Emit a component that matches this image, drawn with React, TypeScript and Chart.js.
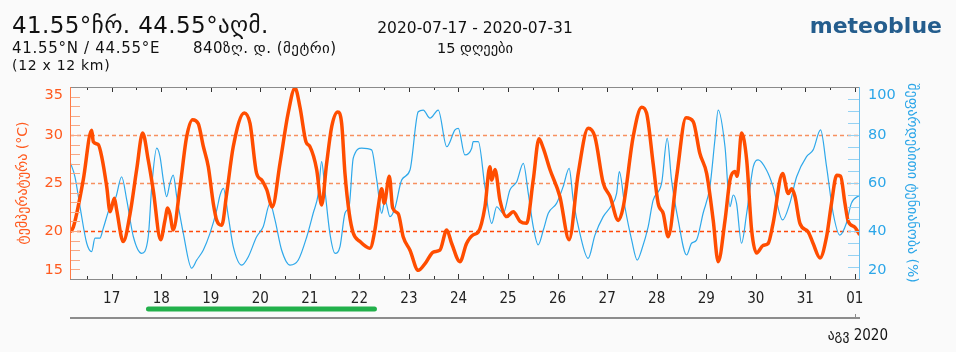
import React, { useEffect, useRef } from 'react';
import { Chart, registerables } from 'chart.js';

Chart.register(...registerables);

// hours since 2020-07-17 00:00
const TEMP_HOURS = [-20.2,-18.6,-13.8,-9.7,-8.9,-6.5,-4.8,-2.4,-0.8,1.3,
  2.4,5.6,8.9,12.1,15.0,17.7,20.1,23.7,25.8,27.1,
  28.2,29.8,33.1,36.3,39.2,41.9,44.4,46.8,49.2,50.9,
  53.3,55.7,58.9,64.2,67.0,70.2,72.7,75.1,77.8,81.5,
  85.5,88.8,91.2,94.1,96.0,99.3,101.7,104.1,106.6,109.5,
  111.4,113.0,115.1,117.0,120.3,125.1,127.5,129.1,130.8,132.0,
  134.5,136.1,138.8,141.2,144.5,148.5,151.8,155.8,159.0,162.3,
  164.7,168.7,171.9,175.1,177.6,180.8,183.2,184.1,185.7,188.1,
  191.3,194.5,197.8,201.0,204.2,207.0,209.1,212.3,217.1,221.6,
  226.0,230.8,234.1,238.1,241.4,245.4,247.8,252.6,256.7,259.1,
  262.3,264.7,267.2,269.6,273.7,278.2,281.7,284.9,288.2,291.4,
  293.8,297.1,299.5,301.9,303.0,305.1,307.6,310.0,312.4,315.6,
  318.0,320.4,325.0,327.7,329.4,331.0,333.4,337.4,339.8,343.1,
  346.3,348.7,351.2,353.1,355.2,356.8,360.0,362.4];
const TEMP_VALUES = [19.9,20.4,25.3,30.5,29.3,29.0,27.7,24.6,22.0,23.4,
  22.2,18.9,21.8,26.4,30.2,27.4,24.3,19.1,21.1,22.4,
  21.8,20.1,24.6,29.8,31.6,31.2,28.8,26.7,22.9,21.1,
  20.6,23.9,28.8,32.3,31.2,26.0,25.3,24.3,22.5,27.0,
  32.3,34.9,32.9,29.3,28.8,26.4,22.7,27.0,30.9,32.4,
  31.2,26.0,21.8,19.8,18.9,18.2,20.1,22.5,24.4,22.9,
  25.7,22.4,21.8,19.4,18.0,15.9,16.6,17.8,18.0,20.1,
  18.7,16.8,18.7,19.6,19.9,22.5,26.7,25.3,26.4,23.2,
  21.5,22.0,21.0,20.8,25.3,29.6,28.6,26.4,23.6,19.1,
  26.0,30.7,29.8,25.0,23.6,21.1,22.5,29.8,32.9,32.3,
  27.0,22.9,21.8,19.4,25.7,31.8,31.4,28.1,26.0,21.1,
  16.8,21.1,25.3,26.2,25.7,30.2,27.4,20.1,17.7,18.5,
  18.7,20.8,26.0,23.9,24.4,23.6,20.8,19.9,18.7,17.2,
  19.4,22.9,25.8,25.7,22.9,21.0,20.4,19.6];

const HUM_HOURS = [-20.2,-17.8,-15.4,-12.1,-9.7,-8.1,-5.7,-4.1,-0.8,2.1,
  4.8,7.3,10.5,14.5,17.7,19.4,21.8,23.4,25.0,26.6,
  28.2,29.8,31.5,34.7,38.7,41.2,44.4,47.6,50.9,52.5,
  54.1,56.5,58.9,63.0,66.2,70.2,73.4,76.7,79.1,82.3,
  86.4,90.4,94.5,97.6,100.1,101.7,103.3,105.7,108.2,110.6,
  113.0,115.1,117.0,121.1,125.9,128.4,130.8,132.4,134.8,137.2,
  140.5,144.5,148.5,150.9,154.2,158.2,162.3,166.3,167.9,171.1,
  174.4,175.1,177.6,180.8,184.1,186.5,189.7,192.9,196.2,199.4,
  201.8,204.2,206.6,209.1,211.5,215.5,218.7,221.6,223.6,226.8,
  230.8,234.1,238.1,242.2,244.6,245.9,248.6,251.9,254.6,256.7,
  259.9,262.3,266.4,269.1,271.2,274.4,278.5,280.9,283.3,286.5,
  289.8,292.2,293.8,297.1,299.5,301.1,302.7,305.1,307.6,310.8,
  313.2,317.2,320.4,325.0,328.5,331.8,336.6,339.8,343.4,346.3,
  349.5,352.7,355.9,358.3,362.4];
const HUM_VALUES = [68.9,62.6,50.4,34.9,31.4,37.0,37.0,41.1,50.1,54.3,
  62.6,52.9,37.6,30.7,37.6,58.5,74.5,71.0,61.3,54.3,
  59.9,63.3,54.3,39.0,24.5,27.9,32.1,39.0,48.8,55.0,
  57.8,46.0,33.5,25.8,29.3,37.6,41.8,51.5,44.6,32.1,
  25.8,27.9,37.6,47.4,55.7,68.9,57.1,39.0,30.7,33.5,
  47.4,50.8,70.3,74.5,73.8,61.3,47.4,52.9,46.0,49.5,
  61.3,65.4,89.7,90.4,87.0,90.4,75.1,82.1,82.8,71.7,
  74.5,77.2,77.2,58.5,43.2,50.1,47.4,57.1,60.5,68.2,
  55.7,41.8,34.2,40.4,47.4,51.5,58.5,66.1,52.9,39.0,
  28.6,38.3,46.0,50.8,55.7,64.7,50.1,36.2,27.9,32.1,
  41.8,52.9,59.9,78.6,61.3,44.6,30.0,34.9,36.2,47.4,
  58.5,77.9,90.4,75.1,50.1,55.0,51.5,34.9,47.4,66.8,
  69.6,65.4,58.5,44.6,51.5,62.6,71.0,73.8,82.1,66.8,
  47.4,38.3,43.2,51.5,55.0];

const DAY_LABELS = ['17','18','19','20','21','22','23','24','25','26','27','28','29','30','31','01'];
const X_MIN = -20.2;
const X_MAX = 362.5;
const SELECTION = [16.6, 128.5];
const MONTH_TICK = 360;

const TEMP_MIN = 15, TEMP_MAX = 35;
const HUM_MIN = 20, HUM_MAX = 100;
const TEMP_GRID_LIGHT = [30, 25];
const TEMP_GRID_STRONG = [20];

const FONT = '"DejaVu Sans", sans-serif';
const FONT_COND = '"DejaVu Sans Condensed", "DejaVu Sans", sans-serif';
const ORANGE = '#ff4d00';
const ORANGE_TXT = '#ff5a1e';
const BLUE = '#2ea8ea';
const BLUE_TXT = '#2ca6e8';

const gridPlugin = {
  id: 'tempGrid',
  beforeDatasetsDraw(chart: any) {
    const { ctx, chartArea: a, scales } = chart;
    const yT = scales.y;
    ctx.save();
    ctx.lineWidth = 1.3;
    ctx.setLineDash([4, 3]);
    const draw = (vals: number[], color: string) => {
      ctx.strokeStyle = color;
      for (const v of vals) {
        const py = Math.round(yT.getPixelForValue(v)) + 0.5;
        ctx.beginPath(); ctx.moveTo(a.left, py); ctx.lineTo(a.right, py); ctx.stroke();
      }
    };
    draw(TEMP_GRID_LIGHT, '#f7905f');
    draw(TEMP_GRID_STRONG, '#ff4a0a');
    ctx.restore();
  },
};

const framePlugin = {
  id: 'frame',
  afterDatasetsDraw(chart: any) {
    const { ctx, chartArea: a, scales } = chart;
    const x = scales.x, yT = scales.y, yH = scales.y1;
    const seg = (x1: number, y1: number, x2: number, y2: number) => {
      ctx.beginPath(); ctx.moveTo(x1, y1); ctx.lineTo(x2, y2); ctx.stroke();
    };
    ctx.save();
    ctx.lineWidth = 1;
    ctx.strokeStyle = '#f8a884';
    for (const t of yT.ticks) {
      const py = Math.round(yT.getPixelForValue(t.value)) + 0.5;
      seg(a.left, py, a.left + 10, py);
    }
    ctx.strokeStyle = '#95d2f3';
    for (const t of yH.ticks) {
      const py = Math.round(yH.getPixelForValue(t.value)) + 0.5;
      seg(a.right - 12, py, a.right, py);
    }
    ctx.strokeStyle = '#333';
    for (const t of x.ticks) {
      const px = Math.round(x.getPixelForValue(t.value)) + 0.5;
      const len = t.value % 24 === 0 ? 5 : 3;
      seg(px, a.top, px, a.top + len);
      seg(px, a.bottom - len, px, a.bottom);
    }
    ctx.strokeStyle = '#8a8a8a';
    seg(a.left, Math.round(a.top) + 0.5, a.right, Math.round(a.top) + 0.5);
    seg(a.left, Math.round(a.bottom) + 0.5, a.right, Math.round(a.bottom) + 0.5);
    ctx.strokeStyle = '#ff7a45';
    seg(Math.round(a.left) + 0.5, a.top, Math.round(a.left) + 0.5, a.bottom);
    ctx.strokeStyle = '#6cc0ee';
    seg(Math.round(a.right) - 0.5, a.top, Math.round(a.right) - 0.5, a.bottom);

    // navigator below the axis
    const navY = a.bottom + 39;
    ctx.strokeStyle = '#8c8c8c';
    ctx.lineWidth = 2;
    seg(a.left, navY, a.right, navY);
    ctx.lineWidth = 1;
    const mx = Math.round(x.getPixelForValue(MONTH_TICK)) + 0.5;
    seg(mx, navY - 4, mx, navY);
    ctx.strokeStyle = '#22b04b';
    ctx.lineWidth = 5;
    ctx.lineCap = 'round';
    seg(x.getPixelForValue(SELECTION[0]) + 2.5, a.bottom + 30, x.getPixelForValue(SELECTION[1]) - 2.5, a.bottom + 30);
    ctx.restore();
  },
};

function ChartCanvas() {
  const ref = useRef<HTMLCanvasElement>(null);
  useEffect(() => {
    if (!ref.current) return;
    const tempData = TEMP_HOURS.map((h, i) => ({ x: h, y: TEMP_VALUES[i] }));
    const humData = HUM_HOURS.map((h, i) => ({ x: h, y: HUM_VALUES[i] }));
    const chart = new Chart(ref.current, {
      type: 'line',
      data: {
        datasets: [
          { label: 'ტემპერატურა', data: tempData, yAxisID: 'y', borderColor: ORANGE, borderWidth: 3.5, pointRadius: 0, cubicInterpolationMode: 'monotone', fill: false },
          { label: 'შეფარდებითი ტენიანობა', data: humData, yAxisID: 'y1', borderColor: BLUE, borderWidth: 1.2, pointRadius: 0, cubicInterpolationMode: 'monotone', fill: false },
        ],
      },
      options: {
        animation: false,
        responsive: false,
        events: [],
        layout: { padding: { top: 87, bottom: 43, left: 0, right: 0 } },
        plugins: { legend: { display: false }, tooltip: { enabled: false } },
        scales: {
          x: {
            type: 'linear',
            min: X_MIN,
            max: X_MAX,
            grid: { display: false, drawTicks: false },
            border: { display: false },
            ticks: {
              stepSize: 12,
              includeBounds: false,
              autoSkip: false,
              maxRotation: 0,
              padding: 11,
              color: '#222',
              font: { family: FONT_COND, size: 15 },
              callback: (v: any) => {
                const n = Number(v);
                if (n % 24 !== 0) return '';
                const idx = n / 24;
                return idx >= 0 && idx < DAY_LABELS.length ? DAY_LABELS[idx] : '';
              },
            },
            afterFit: (s: any) => { s.height = 30; },
          },
          y: {
            type: 'linear',
            position: 'left',
            min: TEMP_MIN,
            max: TEMP_MAX,
            grid: { display: false, drawTicks: false },
            border: { display: false },
            ticks: {
              stepSize: 1,
              autoSkip: false,
              padding: 7,
              color: ORANGE_TXT,
              font: { family: FONT, size: 14.5 },
              callback: (v: any) => {
                const n = Number(v);
                if (n % 5 !== 0) return '';
                if (n === TEMP_MAX) return ['', String(n)];
                if (n === TEMP_MIN) return [String(n), ''];
                return String(n);
              },
            },
            title: { display: true, text: 'ტემპერატურა (°C)', color: ORANGE_TXT, font: { family: FONT, size: 14 }, padding: { top: 15, bottom: 0 } },
            afterFit: (s: any) => { s.width = 70; },
          },
          y1: {
            type: 'linear',
            position: 'right',
            min: HUM_MIN,
            max: HUM_MAX,
            grid: { display: false, drawTicks: false },
            border: { display: false },
            ticks: {
              stepSize: 5,
              autoSkip: false,
              padding: 8,
              color: BLUE_TXT,
              font: { family: FONT, size: 14.5 },
              callback: (v: any) => {
                const n = Number(v);
                if (n % 20 !== 0) return '';
                if (n === HUM_MAX) return ['', String(n)];
                if (n === HUM_MIN) return [String(n), ''];
                return String(n);
              },
            },
            title: { display: true, text: 'შეფარდებითი ტენიანობა (%)', color: BLUE_TXT, font: { family: FONT, size: 14 }, padding: { top: 36, bottom: 0 } },
            afterFit: (s: any) => { s.width = 96; },
          },
        },
      },
      plugins: [gridPlugin, framePlugin],
    } as any);
    return () => chart.destroy();
  }, []);
  return <canvas ref={ref} width={956} height={352} style={{ display: 'block', position: 'absolute', left: 0, top: 0 }} />;
}

const txt = (extra: React.CSSProperties): React.CSSProperties => ({
  position: 'absolute', fontFamily: FONT, color: '#111', lineHeight: 1, whiteSpace: 'pre', ...extra,
});

export default function App() {
  return (
    <div style={{ position: 'fixed', left: 0, top: 0, width: 956, height: 352, background: '#fafafa', overflow: 'hidden' }}>
      <ChartCanvas />
      <div style={txt({ left: 12, top: 14, fontSize: 23, letterSpacing: 0.4 })}>41.55°ჩრ. 44.55°აღმ.</div>
      <div style={txt({ left: 12, top: 41, fontSize: 15, letterSpacing: 0.7 })}>41.55°N / 44.55°E</div>
      <div style={txt({ left: 193, top: 41, fontSize: 15, letterSpacing: 0.45 })}>840ზღ. დ. (მეტრი)</div>
      <div style={txt({ left: 12, top: 58, fontSize: 14, letterSpacing: 0.7 })}>(12 x 12 km)</div>
      <div style={txt({ left: 355, width: 240, top: 21, fontSize: 15.5, textAlign: 'center' })}>2020-07-17 - 2020-07-31</div>
      <div style={txt({ left: 355, width: 240, top: 41, fontSize: 14.5, textAlign: 'center' })}>15 დღეები</div>
      <div style={txt({ right: 14, top: 15, fontSize: 22, fontWeight: 'bold', color: '#245d8d' })}>meteoblue</div>
      <div style={txt({ right: 68, top: 328, fontSize: 15, fontFamily: FONT_COND })}>აგვ 2020</div>
    </div>
  );
}
